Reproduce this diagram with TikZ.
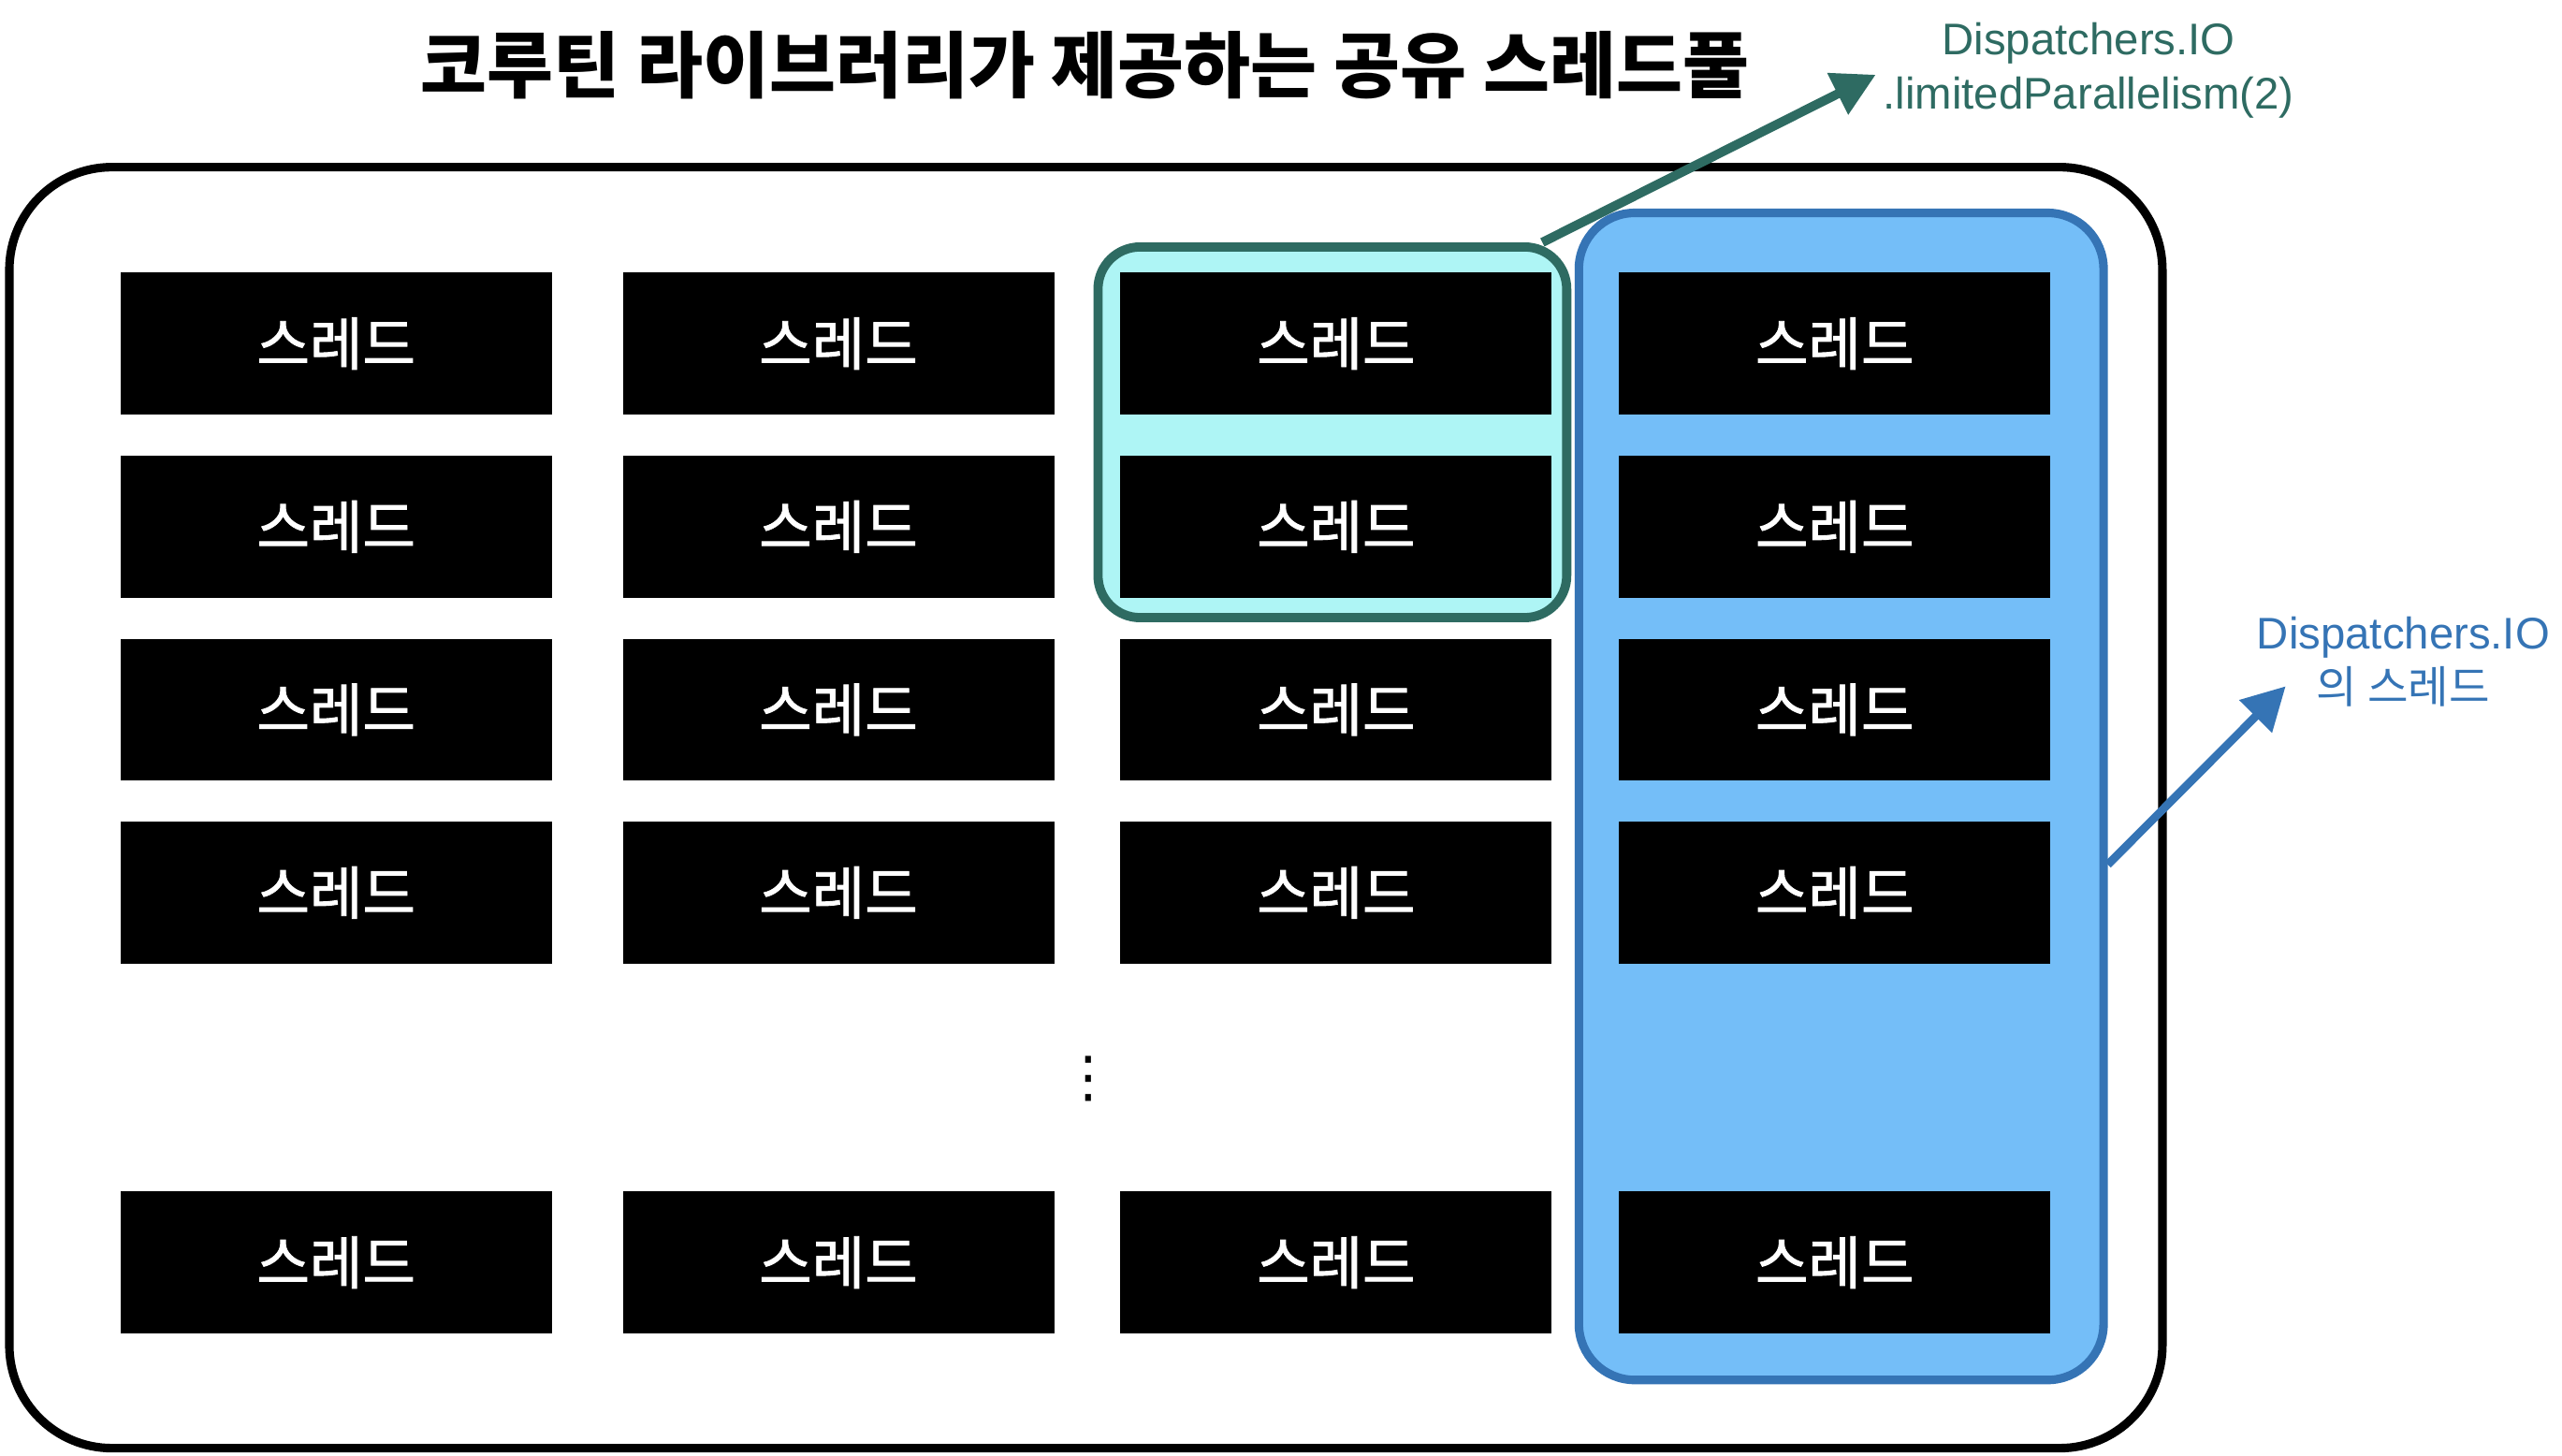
\documentclass[tikz,border=0pt]{standalone}
\usepackage{fontspec}
\setmainfont{Liberation Sans}
\newfontfamily\kr{Noto Sans CJK KR}
\newfontfamily\krthread{Noto Sans CJK KR}[FakeBold=1.5]
\newfontfamily\sym{DejaVu Sans}
\usetikzlibrary{arrows.meta}
\definecolor{limline}{HTML}{2E6B62}
\definecolor{limfill}{HTML}{AEF5F5}
\definecolor{ioline}{HTML}{3574B5}
\definecolor{iofill}{HTML}{74BEF8}
\tikzset{
	thread/.style={fill=black,text=white,minimum width=4.62cm,minimum height=1.52cm,inner sep=0pt,font=\krthread\fontsize{17.5}{19}\selectfont},
	pool/.style={draw,line width=2.6pt,rounded corners=1.1cm,minimum width=23.06cm,minimum height=13.72cm},
	limbox/.style={draw=limline,fill=limfill,line width=2.8pt,rounded corners=0.45cm,minimum width=5.02cm,minimum height=3.97cm},
	iobox/.style={draw=ioline,fill=iofill,line width=2.6pt,rounded corners=0.6cm,minimum width=5.62cm,minimum height=12.5cm},
	note/.style={align=center,inner sep=0pt,anchor=north,font=\fontsize{13.5}{16.5}\selectfont},
	limarrow/.style={draw=limline,line width=2.8pt,-{Triangle[length=13pt,width=13.5pt]}},
	ioarrow/.style={draw=ioline,line width=2.5pt,-{Triangle[length=13pt,width=13.5pt]}}
}

\begin{document}
\begin{tikzpicture}
		\useasboundingbox (0,0) rectangle (27.44,-15.59);
		
		\node[pool] (pool) at (11.63,-8.65) {}; % shared pool
		\node[iobox] (io) at (19.72,-8.53) {}; % Dispatchers.IO
		\node[limbox] (lim) at (14.27,-4.63) {}; % limitedParallelism(2)
		
		\node[thread] (th11) at (3.60,-3.68) {스레드};
		\node[thread] (th12) at (8.98,-3.68) {스레드};
		\node[thread] (th13) at (14.31,-3.68) {스레드};
		\node[thread] (th14) at (19.65,-3.68) {스레드};
		\node[thread] (th21) at (3.60,-5.64) {스레드};
		\node[thread] (th22) at (8.98,-5.64) {스레드};
		\node[thread] (th23) at (14.31,-5.64) {스레드};
		\node[thread] (th24) at (19.65,-5.64) {스레드};
		\node[thread] (th31) at (3.60,-7.60) {스레드};
		\node[thread] (th32) at (8.98,-7.60) {스레드};
		\node[thread] (th33) at (14.31,-7.60) {스레드};
		\node[thread] (th34) at (19.65,-7.60) {스레드};
		\node[thread] (th41) at (3.60,-9.56) {스레드};
		\node[thread] (th42) at (8.98,-9.56) {스레드};
		\node[thread] (th43) at (14.31,-9.56) {스레드};
		\node[thread] (th44) at (19.65,-9.56) {스레드};
		\node[inner sep=0pt,font=\sym\fontsize{17}{20}\selectfont] (dots) at (11.66,-11.55) {⋮};
		\node[thread] (th51) at (3.60,-13.52) {스레드};
		\node[thread] (th52) at (8.98,-13.52) {스레드};
		\node[thread] (th53) at (14.31,-13.52) {스레드};
		\node[thread] (th54) at (19.65,-13.52) {스레드};
		
		\node[font=\kr\bfseries\fontsize{22}{24}\selectfont] (title) at (11.62,-0.70) {코루틴 라이브러리가 제공하는 공유 스레드풀};
		\node[note,text=limline] (limnote) at (22.37,-0.24) {Dispatchers.IO\\.limitedParallelism(2)};
		\node[note,text=ioline] (ionote) at (25.74,-6.60) {Dispatchers.IO\\{\kr 의 스레드}};
		\coordinate (limtip) at (20.09,-0.80);
		\coordinate (iotip) at (24.48,-7.35);
		
		\draw[limarrow] ([xshift=-0.31cm]lim.north east) -- (limtip);
		\draw[ioarrow] ([yshift=-0.73cm]io.east) -- (iotip);
	\end{tikzpicture}
\end{document}
